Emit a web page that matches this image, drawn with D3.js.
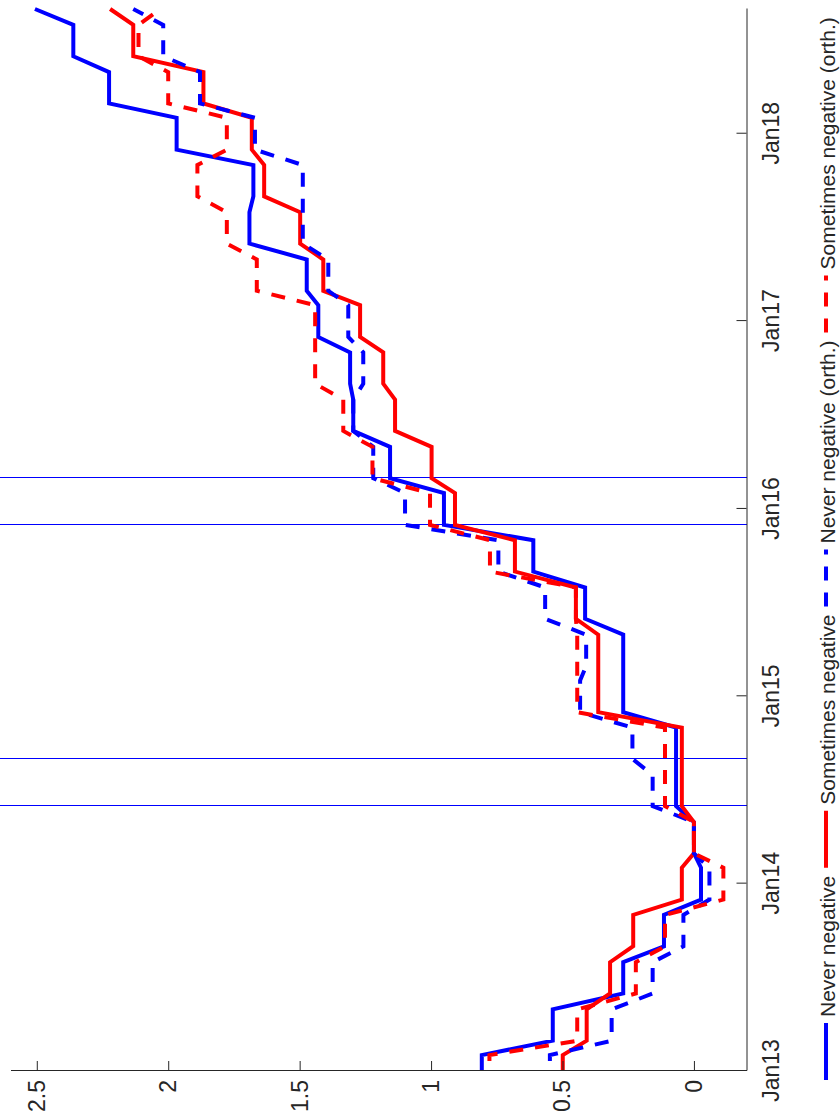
<!DOCTYPE html>
<html><head><meta charset="utf-8">
<script src="https://cdn.jsdelivr.net/npm/d3@7"></script>
<style>body{margin:0;background:#fff} svg{display:block}</style>
</head><body>
<svg id="chart" width="840" height="1117"></svg>
<script>
// ---- data (quarterly values; each value is held for the quarter) ----
const quarterMonths = ["2012-12","2013-03","2013-06","2013-09","2013-12","2014-03","2014-06","2014-09",
  "2014-12","2015-03","2015-06","2015-09","2015-12","2016-03","2016-06","2016-09",
  "2016-12","2017-03","2017-06","2017-09","2017-12","2018-03","2018-06","2018-09"];
const neverNegative = [0.807,0.537,0.269,0.114,-0.027,0.000,0.068,0.068,0.269,0.269,0.414,0.611,
  0.951,1.156,1.296,1.308,1.429,1.473,1.691,1.676,1.968,2.225,2.361,2.507];
const sometimesNegative = [0.499,0.408,0.319,0.231,0.046,0.000,0.046,0.046,0.364,0.364,0.449,0.681,
  0.909,0.998,1.137,1.182,1.270,1.410,1.498,1.635,1.682,1.866,2.133,2.221];
const neverNegativeOrth = [0.548,0.313,0.157,0.040,-0.059,0.000,0.157,0.234,0.433,0.410,0.566,0.744,
  1.099,1.220,1.296,1.258,1.315,1.391,1.488,1.488,1.670,1.879,2.019,2.133];
const sometimesNegativeOrth = [0.778,0.444,0.221,0.110,-0.112,0.000,0.110,0.110,0.444,0.444,0.449,0.776,
  1.004,1.223,1.334,1.441,1.441,1.663,1.777,1.889,1.777,2.000,2.113,2.030];
const seriesLabels = ["Never negative","Sometimes negative","Never negative (orth.)","Sometimes negative (orth.)"];
const yTickValues = [0,0.5,1,1.5,2,2.5];
const xTickYears = [2013,2014,2015,2016,2017,2018];
const xTickLabels = ["Jan13","Jan14","Jan15","Jan16","Jan17","Jan18"];
const eventMonths = ["2014-06","2014-09","2015-12","2016-03"];

// ---- setup ----
const W = 840, H = 1117;
const FONT = "'Liberation Sans', Arial, Helvetica, sans-serif";
const INK = "#262626";
const svg = d3.select("#chart");
svg.append("rect").attr("width", W).attr("height", H).attr("fill", "#fff");
// whole chart is rotated 90deg counter-clockwise
const g = svg.append("g").attr("transform", `translate(0,${H}) rotate(-90)`);
const plot = {left: 46, right: 1108, top: 10.5, bottom: 746.5};

const parseM = s => { const [yy, mm] = s.split("-").map(Number); return new Date(Date.UTC(yy, mm - 1, 1)); };
const x = d3.scaleUtc()
  .domain([new Date(Date.UTC(2013, 0, 1)), new Date(Date.UTC(2018, 8, 1))])
  .range([plot.left, plot.right]);
const y = d3.scaleLinear().domain([-0.2, 2.6]).range([plot.bottom, plot.top]);

g.append("defs").append("clipPath").attr("id", "clip")
  .append("rect").attr("x", plot.left).attr("y", 0)
  .attr("width", plot.right - plot.left + 3).attr("height", plot.bottom + 5);

// event lines
g.append("g").selectAll("line").data(eventMonths).join("line")
  .attr("x1", d => Math.round(x(parseM(d))) + 0.5)
  .attr("x2", d => Math.round(x(parseM(d))) + 0.5)
  .attr("y1", 0).attr("y2", plot.bottom)
  .attr("stroke", "#0000ff").attr("stroke-width", 1.2)
  .attr("shape-rendering", "crispEdges");

// series
function stepPoints(vals) {
  const pts = [];
  vals.forEach((v, i) => {
    const d = parseM(quarterMonths[i]);
    pts.push([d, v]);
    if (i < vals.length - 1) pts.push([d3.utcMonth.offset(d, 2), v]);
  });
  return pts;
}
const line = d3.line().x(d => x(d[0])).y(d => y(d[1]));
const series = [
  {vals: neverNegative, color: "#0000ff", dash: null},
  {vals: sometimesNegative, color: "#ff0000", dash: null},
  {vals: neverNegativeOrth, color: "#0000ff", dash: "14,12"},
  {vals: sometimesNegativeOrth, color: "#ff0000", dash: "14,12"}
];
const lines = g.append("g").attr("clip-path", "url(#clip)");
series.forEach(s => {
  lines.append("path").attr("d", line(stepPoints(s.vals)))
    .attr("fill", "none").attr("stroke", s.color).attr("stroke-width", 4)
    .attr("stroke-dasharray", s.dash);
});

// axes
const xAxis = d3.axisBottom(x)
  .tickValues(xTickYears.map(yr => new Date(Date.UTC(yr, 0, 1))))
  .tickFormat((d, i) => xTickLabels[i])
  .tickSizeInner(-10).tickSizeOuter(0).tickPadding(16);
const gx = g.append("g").attr("transform", `translate(0,${plot.bottom})`).call(xAxis);
const yAxis = d3.axisLeft(y).tickValues(yTickValues).tickFormat(d3.format("~g"))
  .tickSizeInner(-10).tickSizeOuter(0).tickPadding(9);
const gy = g.append("g").attr("transform", `translate(${plot.left},0)`).call(yAxis);
[gx, gy].forEach(a => {
  a.attr("font-family", FONT).attr("font-size", 23);
  a.select(".domain").attr("stroke", INK).attr("stroke-width", 1);
  a.selectAll(".tick line").attr("stroke", INK);
  a.selectAll(".tick text").attr("fill", INK);
});

// legend
const lg = g.append("g").attr("font-family", FONT).attr("font-size", 21);
let u = 37;
series.forEach((s, i) => {
  lg.append("line").attr("x1", u).attr("x2", u + 57).attr("y1", 826).attr("y2", 826)
    .attr("stroke", s.color).attr("stroke-width", 4).attr("stroke-dasharray", s.dash);
  const t = lg.append("text").attr("x", u + 63).attr("y", 835).attr("fill", INK).text(seriesLabels[i]);
  u = u + 63 + t.node().getComputedTextLength() + 8;
});
</script>
</body></html>
